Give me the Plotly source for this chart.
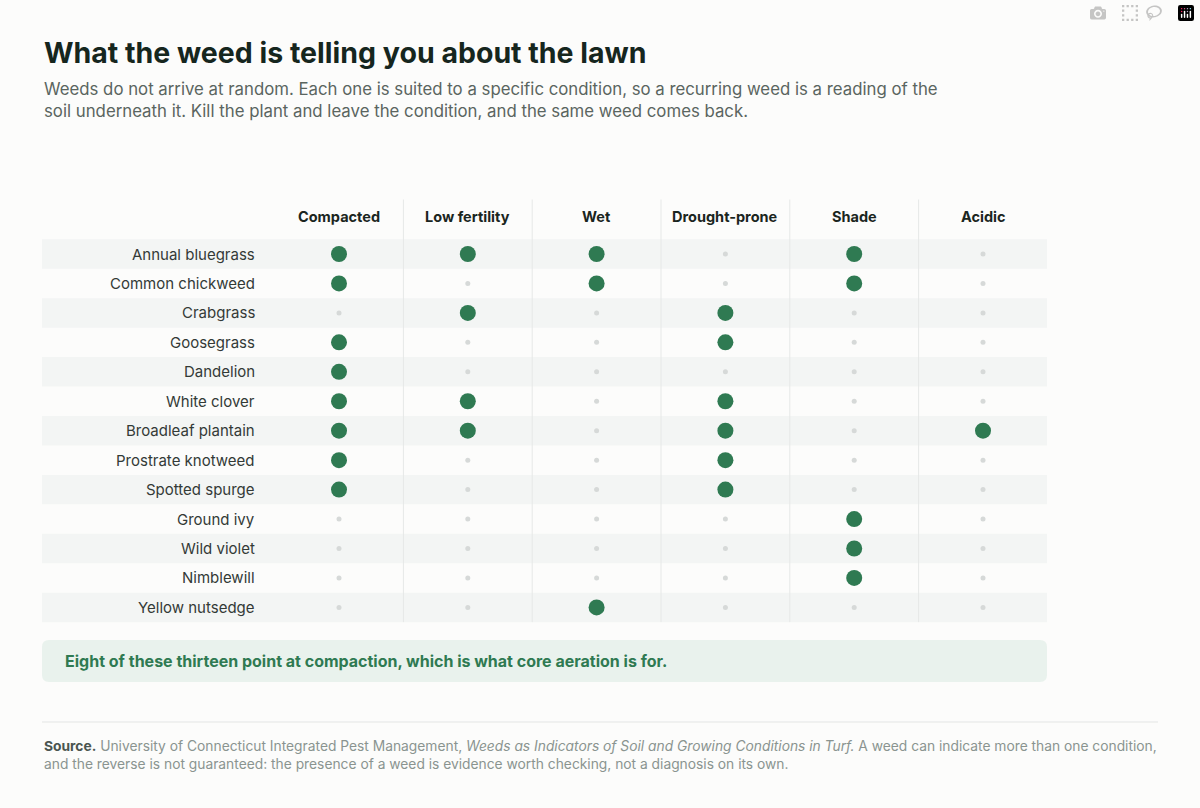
import plotly.graph_objects as go

conditions = ["Compacted", "Low fertility", "Wet", "Drought-prone", "Shade", "Acidic"]
weeds = ["Annual bluegrass", "Common chickweed", "Crabgrass", "Goosegrass", "Dandelion",
         "White clover", "Broadleaf plantain", "Prostrate knotweed", "Spotted spurge",
         "Ground ivy", "Wild violet", "Nimblewill", "Yellow nutsedge"]
indicates = [
    [1, 1, 1, 0, 1, 0],
    [1, 0, 1, 0, 1, 0],
    [0, 1, 0, 1, 0, 0],
    [1, 0, 0, 1, 0, 0],
    [1, 0, 0, 0, 0, 0],
    [1, 1, 0, 1, 0, 0],
    [1, 1, 0, 1, 0, 1],
    [1, 0, 0, 1, 0, 0],
    [1, 0, 0, 1, 0, 0],
    [0, 0, 0, 0, 1, 0],
    [0, 0, 0, 0, 1, 0],
    [0, 0, 0, 0, 1, 0],
    [0, 0, 1, 0, 0, 0],
]

W, H = 1200, 808
X0, DX = 339, 128.8
Y0, DY = 254, 29.45
FONT = "Inter, Lato, sans-serif"
GREEN = "#2f7a52"

fig = go.Figure()
xs_on, ys_on, xs_off, ys_off = [], [], [], []
for j, row in enumerate(indicates):
    for i, v in enumerate(row):
        (xs_on if v else xs_off).append(i)
        (ys_on if v else ys_off).append(j)

fig.add_trace(go.Scatter(x=xs_off, y=ys_off, mode="markers",
                         marker=dict(size=5, color="#d6d9d8"), hoverinfo="skip"))
fig.add_trace(go.Scatter(x=xs_on, y=ys_on, mode="markers",
                         marker=dict(size=16, color=GREEN), hoverinfo="skip"))

def py(p):
    return 1 - p / H

shapes = []
for j in range(len(weeds)):
    if j % 2 == 0:
        shapes.append(dict(type="rect", xref="paper", yref="y", x0=42/W, x1=1047/W,
                           y0=j-0.5, y1=j+0.5, fillcolor="#f3f5f4", line_width=0, layer="below"))
for i in range(len(conditions)-1):
    shapes.append(dict(type="line", xref="x", yref="y", x0=i+0.5, x1=i+0.5,
                       y0=-1.85, y1=len(weeds)-0.5, line=dict(color="#e6e8e7", width=1), layer="below"))
# rounded callout box in pixel space via path on paper coords
l, r, t, b, rad = 42, 1047, 640, 682, 7
def P(x, y):
    return f"{x/W},{py(y)}"
path = (f"M {P(l+rad,t)} L {P(r-rad,t)} Q {P(r,t)} {P(r,t+rad)} L {P(r,b-rad)} Q {P(r,b)} {P(r-rad,b)} "
        f"L {P(l+rad,b)} Q {P(l,b)} {P(l,b-rad)} L {P(l,t+rad)} Q {P(l,t)} {P(l+rad,t)} Z")
shapes.append(dict(type="path", xref="paper", yref="paper", path=path,
                   fillcolor="#e9f2ed", line_width=0, layer="below"))
shapes.append(dict(type="line", xref="paper", yref="paper", x0=42/W, x1=1158/W,
                   y0=py(722), y1=py(722), line=dict(color="#e3e5e4", width=1)))

ann = []
for j, w in enumerate(weeds):
    ann.append(dict(x=257/W, xref="paper", y=j, yref="y", text=w, showarrow=False,
                    xanchor="right", yanchor="middle", font=dict(size=15, color="#333a37", family=FONT)))
for i, c in enumerate(conditions):
    ann.append(dict(x=i, xref="x", y=py(216), yref="paper", text=f"<b>{c}</b>", showarrow=False,
                    yanchor="middle", font=dict(size=14.5, color="#1a2520", family=FONT)))
ann += [
    dict(x=42/W, y=py(52), xref="paper", yref="paper", xanchor="left", yanchor="middle", showarrow=False,
         text="<b>What the weed is telling you about the lawn</b>",
         font=dict(size=28.5, color="#16261e", family=FONT)),
    dict(x=42/W, y=py(100), xref="paper", yref="paper", xanchor="left", yanchor="middle", align="left", showarrow=False,
         text="Weeds do not arrive at random. Each one is suited to a specific condition, so a recurring weed is a reading of the<br>soil underneath it. Kill the plant and leave the condition, and the same weed comes back.",
         font=dict(size=16.8, color="#5a6560", family=FONT)),
    dict(x=63/W, y=py(661), xref="paper", yref="paper", xanchor="left", yanchor="middle", showarrow=False,
         text="<b>Eight of these thirteen point at compaction, which is what core aeration is for.</b>",
         font=dict(size=16, color=GREEN, family=FONT)),
    dict(x=42/W, y=py(755), xref="paper", yref="paper", xanchor="left", yanchor="middle", align="left", showarrow=False,
         text="<b style='color:#4a5550'>Source.</b> University of Connecticut Integrated Pest Management, <i>Weeds as Indicators of Soil and Growing Conditions in Turf.</i> A weed can indicate more than one condition,<br>and the reverse is not guaranteed: the presence of a weed is evidence worth checking, not a diagnosis on its own.",
         font=dict(size=13.8, color="#8a9490", family=FONT)),
]

fig.update_layout(
    width=W, height=H, margin=dict(l=0, r=0, t=0, b=0),
    paper_bgcolor="#fcfcfb", plot_bgcolor="rgba(0,0,0,0)", showlegend=False,
    xaxis=dict(range=[-X0/DX, (W-X0)/DX], visible=False, fixedrange=True),
    yaxis=dict(range=[(H-Y0)/DY, -Y0/DY], visible=False, fixedrange=True),
    shapes=shapes, annotations=ann,
)
fig.write_html("out.html", post_script="document.body.style.margin='0';document.body.style.background='#fcfcfb';")
